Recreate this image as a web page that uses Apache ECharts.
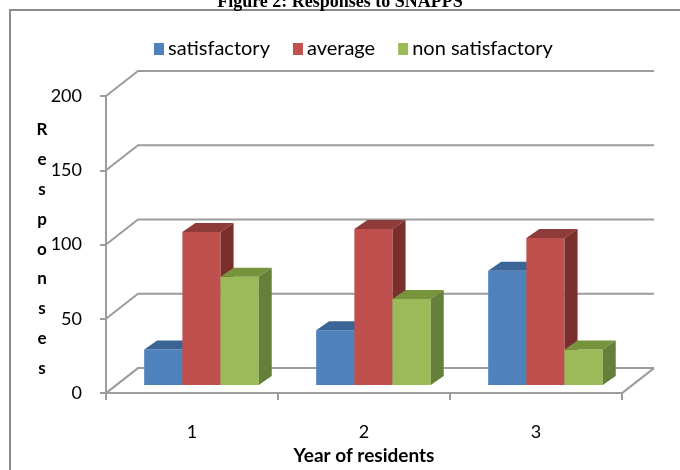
<!DOCTYPE html>
<html>
<head>
<meta charset="utf-8">
<script src="https://cdn.jsdelivr.net/npm/echarts@6/dist/echarts.min.js"></script>
<style>html,body{margin:0;padding:0;background:#fff;}#c{width:680px;height:470px;}</style>
</head>
<body>
<div id="c"></div>
<script>
const categories = ['1', '2', '3'];
const seriesNames = ['satisfactory', 'average', 'non satisfactory'];
const satisfactory = [24, 37, 77];
const average = [103, 105, 99];
const nonSatisfactory = [73, 58, 24];
const yTicks = [0, 50, 100, 150, 200];
const yTitle = 'Responses';

const FONT = 'Lato, "Open Sans", sans-serif';
const GRID_GRAY = '#9c9c9c';
// oblique depth of the wall (px)
const WDX = 32, WDY = -25;
// bar front plane shift and bar depth (px)
const BDY = -8, TDX = 13, TDY = -9;

const palettes = [
  { front: '#4F81BD', top: '#3A6596', side: '#385D8A' },
  { front: '#C0504D', top: '#8E3B39', side: '#7B2F2D' },
  { front: '#9BBB59', top: '#77933C', side: '#66803A' }
];
const valueSets = [satisfactory, average, nonSatisfactory];

function gridRender(params, api) {
  const v = api.value(1);
  const p = api.coord([0, v]);
  const cs = params.coordSys;
  const x0 = cs.x, w = cs.width, y = p[1];
  const style = { stroke: GRID_GRAY, lineWidth: 2, fill: null };
  const children = [{
    type: 'polyline',
    shape: { points: [[x0, y], [x0 + WDX, y + WDY], [x0 + w + WDX, y + WDY]] },
    style: style
  }];
  if (v === 0) {
    children.push({
      type: 'line',
      shape: { x1: x0 + w, y1: y, x2: x0 + w + WDX, y2: y + WDY },
      style: style
    });
  }
  return { type: 'group', children: children };
}

function barRender(s) {
  const pal = palettes[s];
  return function (params, api) {
    const i = api.value(0), v = api.value(1);
    const band = api.size([1, 0])[0];
    const bw = band * 0.222;
    const c = api.coord([i, 0]);
    const t = api.coord([i, v]);
    const x0 = c[0] - band / 2 + band * 0.222 + s * bw;
    const yb = c[1] + BDY, yt = t[1] + BDY;
    return {
      type: 'group',
      children: [
        { type: 'rect', shape: { x: x0, y: yt, width: bw, height: yb - yt }, style: { fill: pal.front } },
        { type: 'polygon', shape: { points: [[x0, yt], [x0 + bw, yt], [x0 + bw + TDX, yt + TDY], [x0 + TDX, yt + TDY]] }, style: { fill: pal.top } },
        { type: 'polygon', shape: { points: [[x0 + bw, yt], [x0 + bw + TDX, yt + TDY], [x0 + bw + TDX, yb + TDY], [x0 + bw, yb]] }, style: { fill: pal.side } }
      ]
    };
  };
}

const series = [{
  type: 'custom',
  name: 'gridlines',
  renderItem: gridRender,
  data: yTicks.map(v => [0, v]),
  encode: { x: 0, y: 1 },
  silent: true,
  z: 1
}];
valueSets.forEach((vals, s) => {
  series.push({
    type: 'custom',
    name: seriesNames[s],
    renderItem: barRender(s),
    itemStyle: { color: palettes[s].front },
    data: vals.map((v, i) => [i, v]),
    encode: { x: 0, y: 1 },
    z: 2 + s
  });
});

const chart = echarts.init(document.getElementById('c'), null, { renderer: 'canvas' });
chart.setOption({
  animation: false,
  backgroundColor: '#fff',
  title: {
    text: 'Figure 2: Responses to SNAPPS',
    left: 'center',
    top: -12,
    textStyle: { fontFamily: '"Liberation Serif", "Times New Roman", serif', fontWeight: 'bold', fontSize: 18, color: '#000' }
  },
  graphic: [{
    type: 'rect',
    shape: { x: 10, y: 10, width: 700, height: 500 },
    style: { fill: null, stroke: '#8c8c8c', lineWidth: 2 },
    z: -1,
    silent: true
  }, {
    type: 'text',
    x: 42,
    y: 115,
    style: {
      text: yTitle.split('').join('\n'),
      font: 'bold 17px ' + FONT,
      fill: '#000',
      align: 'center',
      verticalAlign: 'top',
      lineHeight: 29.8
    },
    silent: true
  }],
  legend: {
    data: seriesNames,
    left: 149,
    top: 34,
    icon: 'rect',
    itemWidth: 10,
    itemHeight: 12,
    itemGap: 23,
    textStyle: { fontFamily: FONT, fontSize: 20, color: '#000', padding: [0, 0, 0, -1] }
  },
  grid: { left: 106, right: 58, top: 96, bottom: 75, containLabel: false },
  xAxis: {
    type: 'category',
    data: categories,
    boundaryGap: true,
    axisLine: { lineStyle: { color: GRID_GRAY, width: 2 } },
    axisTick: { show: true, length: 7, lineStyle: { color: GRID_GRAY, width: 2 } },
    axisLabel: { fontFamily: FONT, fontSize: 18, color: '#000', margin: 30 },
    splitLine: { show: false },
    name: 'Year of residents',
    nameLocation: 'middle',
    nameGap: 51,
    nameTextStyle: { fontFamily: FONT, fontSize: 19, fontWeight: 'bold', color: '#000' }
  },
  yAxis: {
    type: 'value',
    min: 0,
    max: 200,
    interval: 50,
    axisLine: { show: true, lineStyle: { color: GRID_GRAY, width: 2 } },
    axisTick: { show: true, length: 6, lineStyle: { color: GRID_GRAY, width: 2 } },
    axisLabel: { fontFamily: FONT, fontSize: 18, color: '#000', margin: 24 },
    splitLine: { show: false }
  },
  series: series
});
</script>
</body>
</html>
